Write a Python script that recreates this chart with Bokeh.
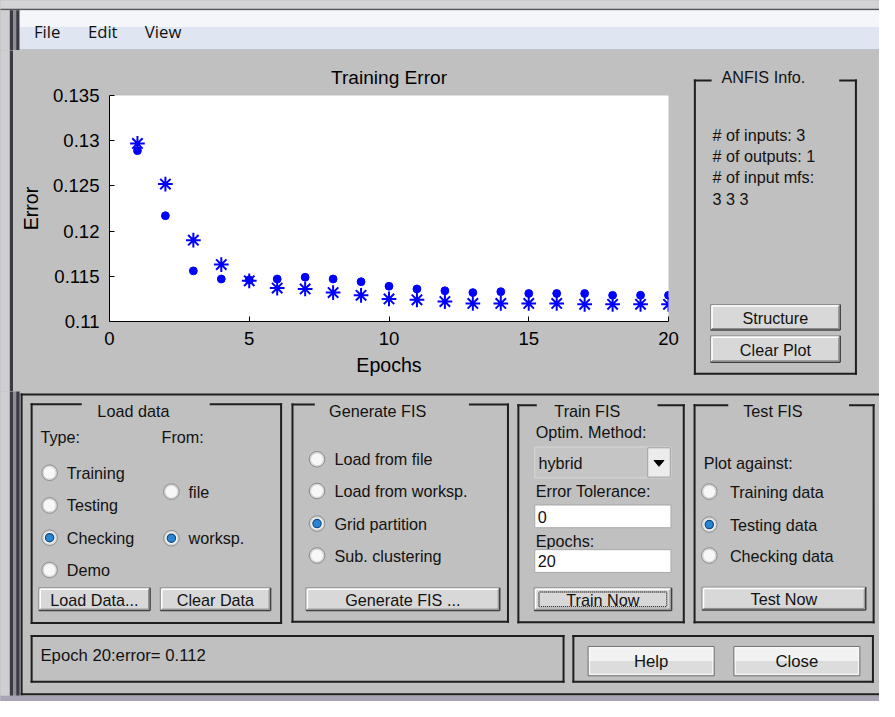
from bokeh.plotting import figure
from bokeh.layouts import column, row
from bokeh.models import Range1d, FixedTicker, CustomJSTickFormatter, ColumnDataSource
from bokeh.core.properties import value
from bokeh.embed import file_html
from bokeh.resources import INLINE

# ---------------- data ----------------
epochs = list(range(1, 21))
training_error = [0.1297, 0.1252, 0.1190, 0.1163, 0.1145, 0.1137, 0.1136, 0.1132, 0.1129, 0.1125,
                  0.1124, 0.1122, 0.1120, 0.1120, 0.1120, 0.1120, 0.1119, 0.1119, 0.1119, 0.1119]
checking_error = [0.1289, 0.1217, 0.1156, 0.1147, 0.1146, 0.1147, 0.1149, 0.1147, 0.1144, 0.1139,
                  0.1136, 0.1134, 0.1132, 0.1133, 0.1131, 0.1131, 0.1131, 0.1129, 0.1129, 0.1129]
x_ticks = [0, 5, 10, 15, 20]
y_ticks = [0.11, 0.115, 0.12, 0.125, 0.13, 0.135]
chart_title = "Training Error"
x_label = "Epochs"
y_label = "Error"
menu_items = ["File", "Edit", "View"]
info_title = "ANFIS Info."
info_lines = ["# of inputs: 3", "# of outputs: 1", "# of input mfs:", "3  3  3"]
load_types = ["Training", "Testing", "Checking", "Demo"]
load_sources = ["file", "worksp."]
gen_options = ["Load from file", "Load from worksp.", "Grid partition", "Sub. clustering"]
test_options = ["Training data", "Testing data", "Checking data"]
status_text = "Epoch 20:error= 0.112"

# ---------------- style ----------------
W, H = 879, 701                 # page size available
SX, SY = W / 895.0, H / 717.0   # reference -> page scale
FS = 0.98                       # font / marker scale
GRAY = "#c0c0c0"
FONT = "Liberation Sans"
MENU_FONT = "Open Sans"
INK = "#121212"
LINE = "#1e1e1e"


def px(v):
    return "%.1fpx" % (v * FS)


GUI_SIZE = px(16.5)


def chrome_fig(px0, px1, py0, py1):
    f = figure(width=px1 - px0, height=py1 - py0,
               x_range=Range1d(px0 / SX, px1 / SX), y_range=Range1d(py1 / SY, py0 / SY),
               output_backend="svg", toolbar_location=None, min_border=0,
               x_axis_location=None, y_axis_location=None)
    f.outline_line_color = None
    f.background_fill_color = GRAY
    f.border_fill_color = GRAY
    f.grid.visible = False
    return f


def txt(f, xs, ys, texts, size=GUI_SIZE, align="left", color=INK, font=FONT):
    f.text(x=xs, y=ys, text=texts, text_font=value(font), text_font_size=size,
           text_align=align, text_baseline="middle", text_color=color)


def seg(f, segs, color=LINE, width=2, dash="solid", cap="square"):
    f.segment(x0=[s[0] for s in segs], y0=[s[1] for s in segs],
              x1=[s[2] for s in segs], y1=[s[3] for s in segs],
              line_color=color, line_width=width, line_dash=dash, line_cap=cap)


def box(f, x0, y0, x1, y1, fill, line=None, lw=1):
    f.quad(left=[x0], right=[x1], top=[y0], bottom=[y1], fill_color=fill,
           line_color=line, line_width=lw)


def panel(f, x0, y0, x1, y1, gap=None):
    if gap is None:
        top = [(x0, y0, x1, y0)]
    else:
        top = [(x0, y0, gap[0], y0), (gap[1], y0, x1, y0)]
    seg(f, top + [(x0, y0, x0, y1), (x1, y0, x1, y1), (x0, y1, x1, y1)])


def cbutton(f, x0, y0, x1, y1, label):
    box(f, x0, y0, x1, y1, "#d8d8d8")
    seg(f, [(x0, y0, x1, y0), (x0, y0, x0, y1)], color="#8c8c8c", width=1, cap="butt")
    seg(f, [(x0 + 1.5, y0 + 1.5, x1 - 1.5, y0 + 1.5), (x0 + 1.5, y0 + 1.5, x0 + 1.5, y1 - 1.5)],
        color="#ffffff", width=1.5, cap="butt")
    seg(f, [(x0, y1, x1, y1), (x1, y0, x1, y1)], color="#404040", width=1.5, cap="butt")
    seg(f, [(x0 + 1.5, y1 - 1.5, x1 - 1.5, y1 - 1.5), (x1 - 1.5, y0 + 1.5, x1 - 1.5, y1 - 1.5)],
        color="#8a8a8a", width=1, cap="butt")
    txt(f, [(x0 + x1) / 2], [(y0 + y1) / 2 + 0.5], [label], align="center")


def wbutton(f, x0, y0, x1, y1, label):
    ym = (y0 + y1) / 2
    box(f, x0, y0, x1, ym, "#f2f2f2")
    box(f, x0, ym, x1, y1, "#dcdcdc")
    box(f, x0 + 1.5, y0 + 1.5, x1 - 1.5, y1 - 1.5, None, "#fbfbfb", 1)
    box(f, x0, y0, x1, y1, None, "#707070", 1)
    txt(f, [(x0 + x1) / 2], [ym + 0.5], [label], align="center", size=px(17))


def radios(f, cx, ys, labels, lx, selected):
    xs = [cx] * len(ys)
    f.scatter(xs, ys, marker="circle", size=16 * FS, fill_color="#d6d6d6", line_color="#8c8e8e",
              line_width=1)
    f.scatter(xs, ys, marker="circle", size=12 * FS, fill_color="#f7f7f7", line_color=None)
    f.scatter([cx], [ys[selected]], marker="circle", size=8.5 * FS, fill_color="#2a86d2",
              line_color="#0f4c85", line_width=1.2)
    txt(f, [lx] * len(ys), ys, labels)


def window_frame(f, y0, y1):
    box(f, -5, y0, 9.5, y1, "#cfcfd3")
    box(f, 9.5, y0, 13, y1, "#3a3a42")
    box(f, 13, y0, 16, y1, "#8e8e9a")
    box(f, 16, y0, 19.5, y1, "#3a3a42")


# page layout boundaries (px)
Y_MENU, Y_MID = 50, 391
X_LEFT, X_INFO = 13, 688

# ---------------- menu bar ----------------
menu_fig = chrome_fig(0, W, 0, Y_MENU)
box(menu_fig, -5, -5, 900, 8.5, "#d4d4d7")
box(menu_fig, -5, 8.5, 900, 10, "#55555a")
window_frame(menu_fig, 10, 80)
box(menu_fig, 19.5, 10, 900, 27, "#f5f6fa")
box(menu_fig, 19.5, 27, 900, 50, "#dfe5f1")
box(menu_fig, 19.5, 50, 900, 52, "#a9afbd")
txt(menu_fig, [34, 89, 147], [31.5] * 3, menu_items, size=px(17), font=MENU_FONT, color="#101010")

# ---------------- left window edge ----------------
left_fig = chrome_fig(0, X_LEFT, Y_MENU, Y_MID)
window_frame(left_fig, 0, 800)

# ---------------- chart ----------------
chart = figure(width=X_INFO - X_LEFT, height=Y_MID - Y_MENU,
               x_range=Range1d(0, 20), y_range=Range1d(0.11, 0.135),
               output_backend="svg", toolbar_location=None, title=chart_title,
               min_border_left=round(111 * SX) - X_LEFT,
               min_border_right=X_INFO - round(680 * SX),
               min_border_top=round(97 * SY) - Y_MENU,
               min_border_bottom=Y_MID - round(328 * SY))
chart.background_fill_color = "white"
chart.border_fill_color = GRAY
chart.outline_line_color = None
chart.grid.visible = False
chart.title.align = "center"
chart.title.text_font = FONT
chart.title.text_font_size = px(19.5)
chart.title.text_font_style = "normal"
chart.title.text_color = "#000000"
chart.title.standoff = 15
chart.xaxis.ticker = FixedTicker(ticks=x_ticks)
chart.yaxis.ticker = FixedTicker(ticks=y_ticks)
chart.yaxis.formatter = CustomJSTickFormatter(code="return (Math.round(tick*1000)/1000).toString();")
chart.xaxis.axis_label = x_label
chart.yaxis.axis_label = y_label
chart.axis.major_tick_in = 5
chart.axis.major_tick_out = 0
chart.axis.minor_tick_in = 0
chart.axis.minor_tick_out = 0
chart.axis.axis_line_color = "#000000"
chart.axis.major_tick_line_color = "#000000"
chart.axis.major_label_text_font = FONT
chart.axis.major_label_text_font_size = px(19)
chart.axis.major_label_text_color = "#000000"
chart.axis.axis_label_text_font = FONT
chart.axis.axis_label_text_font_size = px(20)
chart.axis.axis_label_text_font_style = "normal"
chart.axis.axis_label_text_color = "#000000"
chart.xaxis.major_label_standoff = 10
chart.xaxis.axis_label_standoff = 6
chart.yaxis.major_label_standoff = 10
chart.yaxis.axis_label_standoff = 8

src = ColumnDataSource(dict(epoch=epochs, train=training_error, check=checking_error))
chart.scatter("epoch", "check", source=src, marker="circle", size=8 * FS, color="#0000ff")
chart.scatter("epoch", "train", source=src, marker="asterisk", size=15 * FS, line_width=2,
              line_color="#0000ff")

# ---------------- ANFIS info ----------------
info_fig = chrome_fig(X_INFO, W, Y_MENU, Y_MID)
panel(info_fig, 707, 81.7, 871, 381.7, gap=(723, 855))
txt(info_fig, [776.7], [78.3], [info_title], align="center")
txt(info_fig, [725] * 4, [137.5, 159.5, 181, 203], info_lines)
cbutton(info_fig, 723, 311, 855, 337, "Structure")
cbutton(info_fig, 723, 343, 855, 370, "Clear Plot")

# ---------------- bottom controls ----------------
bot = chrome_fig(0, W, Y_MID, H)
window_frame(bot, 390, 711)
box(bot, -5, 711, 900, 725, "#a9a3b6")
seg(bot, [(21.5, 403, 900, 403), (21.5, 403, 21.5, 709.5), (21.5, 709.5, 900, 709.5)])

# Load data
panel(bot, 31.7, 413, 285.7, 636.7, gap=(81.7, 214))
txt(bot, [135.3], [420], ["Load data"], align="center")
txt(bot, [40.7, 164], [446, 446], ["Type:", "From:"])
radios(bot, 50, [483, 516.5, 549.5, 582.5], load_types, 67.5, 2)
radios(bot, 174, [502.3, 550], load_sources, 191.5, 1)
cbutton(bot, 39, 600.7, 152.3, 624, "Load Data...")
cbutton(bot, 162.7, 600.7, 275, 624, "Clear Data")

# Generate FIS
panel(bot, 297.3, 413.3, 516.7, 635.5, gap=(319, 478))
txt(bot, [384], [420], ["Generate FIS"], align="center")
radios(bot, 322.3, [469.3, 501.7, 535, 567.7], gen_options, 340, 2)
cbutton(bot, 311, 600.7, 508.3, 624, "Generate FIS ...")

# Train FIS
panel(bot, 527.3, 414, 695.7, 636, gap=(545, 670))
txt(bot, [597.5], [420], ["Train FIS"], align="center")
txt(bot, [545], [441.7], ["Optim. Method:"])
box(bot, 544, 456.7, 682.7, 488.3, "#c5c5c5", "#d6d6d6", 1)
box(bot, 659, 457.5, 682, 487.5, "#ececec", "#a0a0a0", 1)
bot.patch(x=[665.5, 675.5, 670.5], y=[470.5, 470.5, 476.5], fill_color="#000000", line_color="#000000")
txt(bot, [547.7], [473.5], ["hybrid"])
txt(bot, [545], [501.7], ["Error Tolerance:"])
box(bot, 544, 516, 682.7, 539.3, "#ffffff", "#a8a8a8", 1)
txt(bot, [547], [528], ["0"])
txt(bot, [545], [553], ["Epochs:"])
box(bot, 544, 561.7, 682.7, 585, "#ffffff", "#a8a8a8", 1)
txt(bot, [547], [573.5], ["20"])
cbutton(bot, 543.3, 600.7, 683.3, 624, "Train Now")
box(bot, 548.3, 605, 678.3, 620, None, "#202020", 1)
bot.quad(left=[548.3], right=[678.3], top=[605], bottom=[620], fill_color=None,
         line_color="#d8d8d8", line_width=1, line_dash="1 1")

# Test FIS
panel(bot, 706.7, 414, 889, 636, gap=(740, 865))
txt(bot, [786.5], [420], ["Test FIS"], align="center")
txt(bot, [716], [473], ["Plot against:"])
radios(bot, 721.7, [502.3, 536, 567.7], test_options, 742.7, 1)
cbutton(bot, 714.3, 600, 881, 623.3, "Test Now")

# status + help/close
panel(bot, 31.7, 650, 573.3, 696.7)
txt(bot, [40.7], [670], [status_text], size=px(17))
panel(bot, 583.3, 650, 888.3, 696.7)
wbutton(bot, 598.3, 660.7, 726.7, 690.7, "Help")
wbutton(bot, 746.7, 660.7, 875, 690.7, "Close")

mid = row(left_fig, column(chart), column(info_fig))
mid.styles = {"background-color": GRAY}
layout = column(menu_fig, mid, bot)
layout.styles = {"background-color": GRAY}
open("out.html", "w").write(file_html(layout, INLINE))
